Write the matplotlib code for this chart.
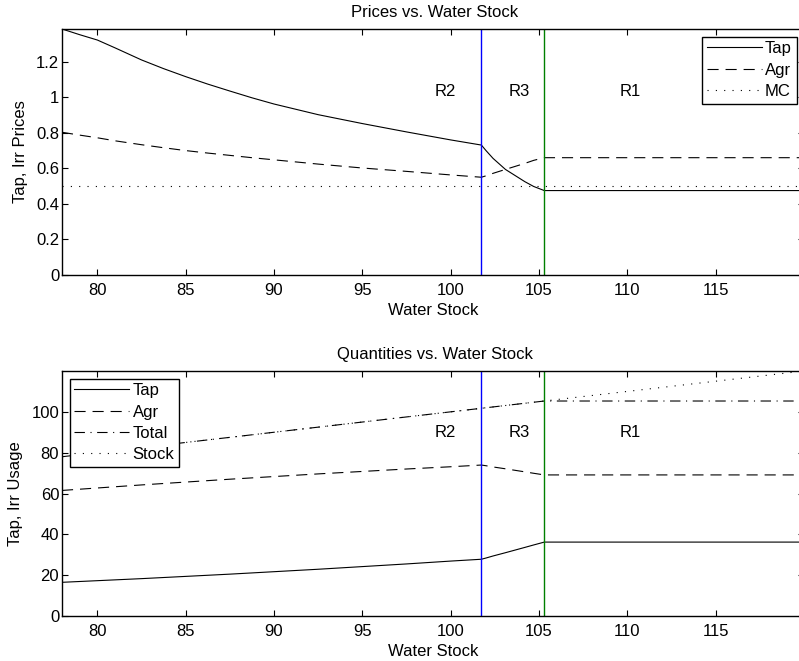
import matplotlib
matplotlib.use("Agg")
import matplotlib.pyplot as plt
import numpy as np

plt.rcParams['font.family'] = ['Liberation Sans', 'DejaVu Sans']
plt.rcParams['lines.scale_dashes'] = False

# ---- data ----
stock = [78, 79, 80, 81, 82.5, 83.75, 85, 86.25, 87.5, 88.75, 90, 92.5, 95, 97.5, 100, 101.74,
         102.0, 102.4, 103.1, 104.2, 104.7, 105.3, 120]
tap_price = [1.384, 1.352, 1.322, 1.278, 1.210, 1.161, 1.116, 1.074, 1.035, 0.997, 0.962,
             0.902, 0.852, 0.805, 0.760, 0.731,
             0.700, 0.656, 0.594, 0.525, 0.498, 0.475, 0.475]
agr_price = [0.803, 0.787, 0.772, 0.755, 0.733, 0.716, 0.700, 0.686, 0.673, 0.660, 0.648,
             0.624, 0.602, 0.583, 0.563, 0.550,
             0.558, 0.572, 0.594, 0.628, 0.645, 0.660, 0.660]
mc_price = [0.5] * len(stock)
tap_qty = [16.5, 16.9, 17.3, 17.7, 18.3, 18.85, 19.4, 19.95, 20.5, 21.1, 21.7,
           22.9, 24.2, 25.5, 26.9, 27.8,
           28.4, 29.4, 31.0, 33.6, 34.8, 36.2, 36.2]
agr_qty = [61.5, 62.1, 62.7, 63.3, 64.2, 64.9, 65.6, 66.3, 67.0, 67.65, 68.3,
           69.6, 70.8, 72.0, 73.1, 73.94,
           73.6, 73.0, 72.1, 70.6, 69.9, 69.1, 69.1]
total_qty = [t + a for t, a in zip(tap_qty, agr_qty)]
region_bounds = [101.74, 105.3]
region_labels = ['R2', 'R3', 'R1']
region_label_x = [99.7, 103.9, 110.15]
xticks = [80, 85, 90, 95, 100, 105, 110, 115]

W, H = 799, 661
FS = 12
fig = plt.figure(figsize=(W / 100, H / 100), dpi=100)

def frac_rect(l, t, r, b):
    return [l / W, 1 - b / H, (r - l) / W, (b - t) / H]

ax1 = fig.add_axes(frac_rect(62, 29, 804, 275))
ax2 = fig.add_axes(frac_rect(62, 371, 804, 616))

LW = 0.8
DASH = (0, (8.0, 5.0))
DOT = (0, (0.8, 5.2))
DASHDOT = (0, (7.5, 4.0, 0.8, 4.0))

def style(ax):
    ax.tick_params(direction='in', top=True, right=True, length=4.5, width=0.8,
                   labelsize=FS)
    ax.tick_params(axis='x', pad=6)
    ax.tick_params(axis='y', pad=2)
    for s in ax.spines.values():
        s.set_linewidth(1.0)
    ax.set_xticks(xticks)
    ax.set_xlim(78, 120)

TITLE_X = (430.5 - 62) / (804 - 62) + 0.006
LEG_KW = dict(fontsize=FS, handlelength=3.3, handletextpad=0.2,
              labelspacing=0.38, borderaxespad=0.45, borderpad=0.28,
              fancybox=False, edgecolor='black', framealpha=1)

# ---- top: prices ----
ax1.plot(stock, tap_price, color='black', lw=LW, ls='-', label='Tap')
ax1.plot(stock, agr_price, color='black', lw=LW, ls=DASH, label='Agr')
ax1.plot(stock, mc_price, color='black', lw=LW, ls=DOT, label='MC')
ax1.axvline(region_bounds[0], color=(0, 0, 1), lw=1.0)
ax1.axvline(region_bounds[1], color=(0, 0.5, 0), lw=1.0)
ax1.set_ylim(0, 1.384)
ax1.set_yticks([0, 0.2, 0.4, 0.6, 0.8, 1.0, 1.2])
ax1.set_yticklabels(['0', '0.2', '0.4', '0.6', '0.8', '1', '1.2'])
style(ax1)
for xl, lab in zip(region_label_x, region_labels):
    ax1.text(xl, 0.745, lab, transform=ax1.get_xaxis_transform(),
             ha='center', va='center', fontsize=FS)
ax1.set_title('Prices vs. Water Stock', fontsize=FS, pad=8.5, x=TITLE_X)
ax1.set_xlabel('Water Stock', fontsize=FS, labelpad=3.5)
ax1.set_ylabel('Tap, Irr Prices', fontsize=FS, labelpad=6)
leg1 = ax1.legend(loc='upper right', **LEG_KW)
leg1.get_frame().set_linewidth(1.0)

# ---- bottom: quantities ----
ax2.plot(stock, tap_qty, color='black', lw=LW, ls='-', label='Tap')
ax2.plot(stock, agr_qty, color='black', lw=LW, ls=DASH, label='Agr')
ax2.plot(stock, total_qty, color='black', lw=LW, ls=DASHDOT, label='Total')
ax2.plot(stock, stock, color='black', lw=LW, ls=DOT, label='Stock')
ax2.axvline(region_bounds[0], color=(0, 0, 1), lw=1.0)
ax2.axvline(region_bounds[1], color=(0, 0.5, 0), lw=1.0)
ax2.set_ylim(0, 120)
ax2.set_yticks([0, 20, 40, 60, 80, 100])
style(ax2)
for xl, lab in zip(region_label_x, region_labels):
    ax2.text(xl, 0.75, lab, transform=ax2.get_xaxis_transform(),
             ha='center', va='center', fontsize=FS)
ax2.set_title('Quantities vs. Water Stock', fontsize=FS, pad=8.5, x=TITLE_X)
ax2.set_xlabel('Water Stock', fontsize=FS, labelpad=3.5)
ax2.set_ylabel('Tap, Irr Usage', fontsize=FS, labelpad=6)
leg2 = ax2.legend(loc='upper left', **LEG_KW)
leg2.get_frame().set_linewidth(1.0)

fig.savefig('out.png', dpi=100)
